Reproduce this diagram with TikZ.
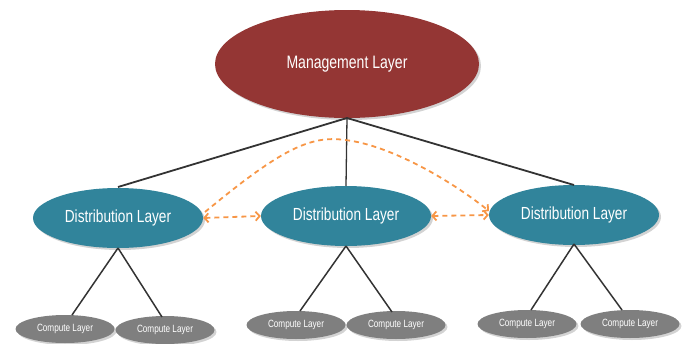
\documentclass[tikz,border=0pt]{standalone}
\usepackage{fontspec}
\setmainfont{Liberation Sans}[FakeStretch=0.78]
\usetikzlibrary{shapes.geometric,shadows,arrows.meta}
\definecolor{mgmt}{HTML}{943634}
\definecolor{dist}{HTML}{31849B}
\definecolor{comp}{HTML}{7F7F7F}
\definecolor{orng}{HTML}{F79646}
\definecolor{lin}{HTML}{333333}
\tikzset{
  mgmtnode/.style={ellipse,fill=mgmt,text=white,minimum width=264pt,minimum height=108pt,inner sep=0pt,font=\fontsize{18}{21}\selectfont,drop shadow={opacity=0.35,shadow xshift=2pt,shadow yshift=-2pt}},
  distnode/.style={ellipse,fill=dist,text=white,minimum width=170pt,minimum height=60pt,inner sep=0pt,font=\fontsize{17.5}{20}\selectfont,drop shadow={opacity=0.35,shadow xshift=2pt,shadow yshift=-2pt}},
  compnode/.style={ellipse,fill=comp,text=white,minimum width=99pt,minimum height=28pt,inner sep=0pt,font=\fontsize{10.5}{12}\selectfont,drop shadow={opacity=0.35,shadow xshift=2pt,shadow yshift=-2pt}},
  tree/.style={draw=lin,line width=1.8pt},
  peerline/.style={draw=orng,line width=1.8pt,dash pattern=on 5pt off 4pt},
  barb/.tip={Straight Barb[length=4pt,width=9pt]},
}
\begin{document}
\begin{tikzpicture}[x=1pt,y=-1pt]
\useasboundingbox (0,0) rectangle (683,343);
\node[mgmtnode] (m) at (347,64) {Management Layer};
\node[distnode] (d1) at (118,218) {Distribution Layer};
\node[distnode] (d2) at (346,216) {Distribution Layer};
\node[distnode] (d3) at (574,215) {Distribution Layer};
\node[compnode] (c1) at (65,329) {Compute Layer};
\node[compnode] (c2) at (165,330) {Compute Layer};
\node[compnode] (c3) at (296,325) {Compute Layer};
\node[compnode] (c4) at (396,325) {Compute Layer};
\node[compnode] (c5) at (527,324) {Compute Layer};
\node[compnode] (c6) at (630,324) {Compute Layer};
\coordinate (mb) at (347,118);
\coordinate (d1t) at (118,187);
\coordinate (d2t) at (346,186);
\coordinate (d3t) at (574,185);
\draw[tree] (mb) -- (d1t);
\draw[tree,line width=1.3pt] (mb) -- (d2t);
\draw[tree] (mb) -- (d3t);
\coordinate (d1b) at (118,248);
\coordinate (d2b) at (346,246);
\coordinate (d3b) at (574,244);
\coordinate (c1t) at (72,315);
\coordinate (c2t) at (162,317);
\coordinate (c3t) at (300,311);
\coordinate (c4t) at (392,312);
\coordinate (c5t) at (531,310);
\coordinate (c6t) at (622,310);
\draw[tree,line width=1.5pt] (d1b) -- (c1t);
\draw[tree,line width=1.5pt] (d1b) -- (c2t);
\draw[tree,line width=1.5pt] (d2b) -- (c3t);
\draw[tree,line width=1.5pt] (d2b) -- (c4t);
\draw[tree,line width=1.5pt] (d3b) -- (c5t);
\draw[tree,line width=1.5pt] (d3b) -- (c6t);
\draw[peerline,barb-barb] (d1.east) -- (d2.west);
\draw[peerline,barb-barb] (d2.east) -- (d3.west);
\coordinate (cs) at (205,212);
\coordinate (ce) at (489,211);
\draw[peerline,-barb] (cs) .. controls (280,150) and (310,135) .. (345,140) .. controls (390,145) and (450,180) .. (ce);
\end{tikzpicture}
\end{document}
